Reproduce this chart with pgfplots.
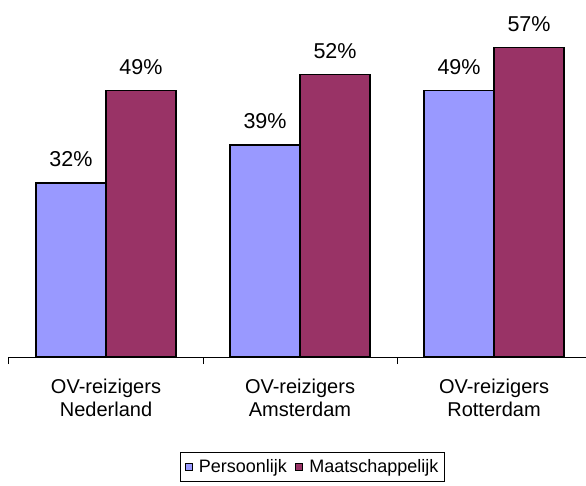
\documentclass[border=0pt]{standalone}
\usepackage{pgfplots}
\pgfplotsset{compat=1.18}
\usepackage{fontspec}
\setmainfont{Liberation Sans}
\definecolor{cblue}{HTML}{9999FF}
\definecolor{cred}{HTML}{993366}
\begin{document}
\begin{tikzpicture}[x=1pt,y=1pt]
\useasboundingbox (0,0) rectangle (586,485);
\begin{axis}[
  at={(9pt,128pt)}, anchor=south west,
  scale only axis, width=577pt, height=357pt,
  xmin=-0.5, xmax=2.474, ymin=0, ymax=65.7,
  axis x line*=bottom, axis y line=none,
  axis line style={line width=1pt, -},
  ybar=0pt, bar width=70pt,
  xtick={0,1,2},
  xticklabels={{OV-reizigers\\Nederland},{OV-reizigers\\Amsterdam},{OV-reizigers\\Rotterdam}},
  major tick length=0pt,
  minor xtick={-0.5,0.5,1.5},
  minor tick length=7pt,
  tick align=outside,
  minor tick style={line width=1pt, black},
  xticklabel style={align=center, font=\fontsize{20}{23}\selectfont, yshift=-18pt},
  point meta=explicit symbolic,
  nodes near coords,
  nodes near coords style={font=\fontsize{21.5}{25}\selectfont, yshift=12pt},
  clip=false,
  legend columns=2,
  legend style={at={(0.526,-0.266)}, anchor=north, draw=black, line width=0.8pt,
    font=\fontsize{18}{21}\selectfont, inner xsep=4pt, inner ysep=5pt,
    /tikz/every even column/.style={column sep=6pt}},
  legend image code/.code={\draw[#1, line width=0.8pt] (0pt,-3.5pt) rectangle (7pt,3.5pt);\path[draw=none, fill=none] (0pt,0pt) rectangle (12pt,0.1pt);},
]
\addplot[fill=cblue, draw=black, line width=1.3pt] coordinates {(0,32)[32\%] (1,39)[39\%] (2,49)[49\%]};
\addplot[fill=cred, draw=black, line width=1.3pt] coordinates {(0,49)[49\%] (1,52)[52\%] (2,57)[57\%]};
\legend{Persoonlijk, Maatschappelijk}
\end{axis}
\end{tikzpicture}
\end{document}
